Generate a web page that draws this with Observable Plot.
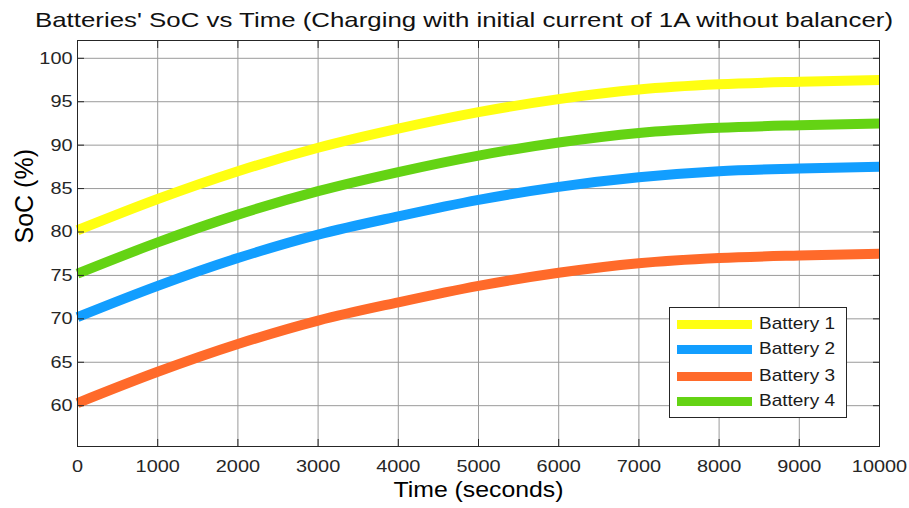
<!DOCTYPE html>
<html>
<head>
<meta charset="utf-8">
<script src="https://cdn.jsdelivr.net/npm/d3@7"></script>
<script src="https://cdn.jsdelivr.net/npm/@observablehq/plot@0.6"></script>
<style>
  html, body { margin: 0; padding: 0; background: #fff; }
  #wrap { position: relative; width: 909px; height: 508px; overflow: hidden; font-family: "Liberation Sans", Arial, sans-serif; }
  #chart { position: absolute; left: 0; top: 0; }
  #title { position: absolute; top: 8px; left: 0; white-space: nowrap; font-size: 21px; line-height: 24px; color: #111; transform-origin: 0 0; }
  #legend { position: absolute; left: 669px; top: 307px; width: 178px; height: 111px; box-sizing: border-box; border: 1px solid #262626; background: #fff; }
  .li { position: absolute; left: 7px; height: 22px; width: 170px; }
  .sw { position: absolute; left: 0; top: 7px; width: 75px; height: 9px; }
  .lt { position: absolute; left: 82px; top: 1px; font-size: 17px; line-height: 20px; color: #1a1a1a; white-space: nowrap; transform-origin: 0 50%; }
</style>
</head>
<body>
<div id="wrap">
  <div id="chart"></div>
  <div id="title">Batteries' SoC vs Time (Charging with initial current of 1A without balancer)</div>
  <div id="legend"></div>
</div>
<script>
const time = [0, 1000, 2000, 3000, 4000, 5000, 6000, 7000, 8000, 9000, 10000];
const battery1 = [80.2, 83.8, 87.0, 89.7, 91.9, 93.8, 95.3, 96.4, 97.0, 97.3, 97.5];
const battery2 = [70.2, 73.8, 77.0, 79.7, 81.8, 83.7, 85.2, 86.3, 87.0, 87.3, 87.5];
const battery3 = [60.3, 63.9, 67.1, 69.8, 71.9, 73.8, 75.3, 76.4, 77.0, 77.3, 77.5];
const battery4 = [75.2, 78.8, 82.0, 84.7, 86.9, 88.8, 90.3, 91.4, 92.0, 92.3, 92.5];
const seriesNames = ["Battery 1", "Battery 2", "Battery 3", "Battery 4"];
const seriesColors = ["#ffff11", "#129eff", "#ff6a2a", "#64d314"];
const xTicks = [0, 1000, 2000, 3000, 4000, 5000, 6000, 7000, 8000, 9000, 10000];
const yTicks = [60, 65, 70, 75, 80, 85, 90, 95, 100];

const seriesValues = [battery1, battery2, battery3, battery4];
const data = [];
seriesNames.forEach((name, i) => {
  time.forEach((t, j) => data.push({name, t, v: seriesValues[i][j]}));
});

const chart = Plot.plot({
  width: 909,
  height: 508,
  marginLeft: 77,
  marginRight: 30,
  marginTop: 40,
  marginBottom: 62,
  style: {fontFamily: "'Liberation Sans', Arial, sans-serif", fontSize: "17px", color: "#262626", background: "#fff"},
  x: {domain: [0, 10000], ticks: xTicks},
  y: {domain: [55.3, 102.05], ticks: yTicks},
  color: {domain: seriesNames, range: seriesColors},
  marks: [
    Plot.gridX(xTicks, {stroke: "#9a9a9a", strokeOpacity: 1, strokeWidth: 1}),
    Plot.gridY(yTicks, {stroke: "#9a9a9a", strokeOpacity: 1, strokeWidth: 1}),
    Plot.line(data, {x: "t", y: "v", z: "name", stroke: "name", strokeWidth: 10, curve: "monotone-x", strokeLinecap: "butt", strokeLinejoin: "round"}),
    Plot.axisX(xTicks, {anchor: "bottom", tickSize: 0, tickPadding: 13, fontSize: 17, tickFormat: d => String(d), label: null}),
    Plot.axisX(xTicks, {anchor: "bottom", tickSize: -7, tickFormat: () => "", label: null, stroke: "#262626"}),
    Plot.axisX(xTicks, {anchor: "top", tickSize: -7, tickFormat: () => "", label: null, stroke: "#262626"}),
    Plot.axisY(yTicks, {anchor: "left", tickSize: 0, tickPadding: 5, fontSize: 17, label: null}),
    Plot.axisY(yTicks, {anchor: "left", tickSize: -7, tickFormat: () => "", label: null, stroke: "#262626"}),
    Plot.axisY(yTicks, {anchor: "right", tickSize: -7, tickFormat: () => "", label: null, stroke: "#262626"}),
    Plot.frame({stroke: "#262626", strokeWidth: 1}),
    Plot.text(["Time (seconds)"], {frameAnchor: "bottom", dy: 50, fontSize: 22, fill: "#000", className: "xlab"}),
    Plot.text(["SoC (%)"], {frameAnchor: "left", dx: -53, rotate: -90, fontSize: 25, fill: "#000"})
  ]
});
document.getElementById("chart").appendChild(chart);

// horizontal stretch of the texts, as in the reference picture
function stretch(el, s) {
  const w = el.getComputedTextLength();
  if (w > 0) {
    el.setAttribute("textLength", (w * s).toFixed(2));
    el.setAttribute("lengthAdjust", "spacingAndGlyphs");
  }
}
chart.querySelectorAll('g[aria-label="x-axis tick label"] text, g[aria-label="y-axis tick label"] text').forEach(t => stretch(t, 1.17));
chart.querySelectorAll('.xlab text').forEach(t => {
  const w = t.getComputedTextLength();
  stretch(t, 170 / w);
});

// title
const title = document.getElementById("title");
const tw = title.getBoundingClientRect().width;
const ts = 858 / tw;
title.style.transform = `scaleX(${ts})`;
title.style.left = (464 - 429) + "px";

// legend
const legend = document.getElementById("legend");
const rowTops = [5, 30, 57, 82];
seriesNames.forEach((name, i) => {
  const row = document.createElement("div");
  row.className = "li";
  row.style.top = rowTops[i] + "px";
  row.innerHTML = `<div class="sw" style="background:${seriesColors[i]}"></div><span class="lt">${name}</span>`;
  legend.appendChild(row);
  const lt = row.querySelector(".lt");
  const w = lt.getBoundingClientRect().width;
  lt.style.transform = `scaleX(${76 / w})`;
});
</script>
</body>
</html>
